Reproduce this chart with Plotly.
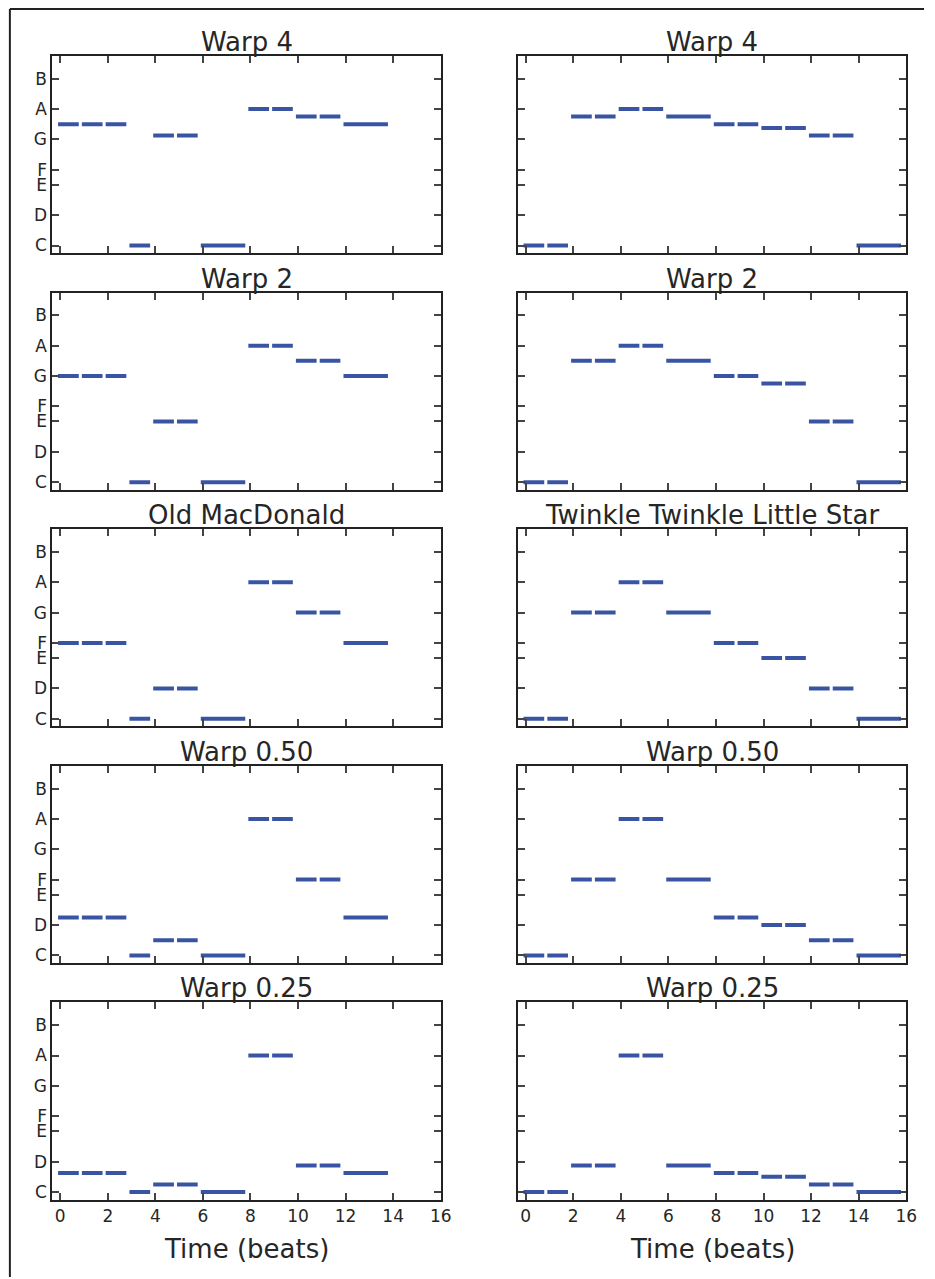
import plotly.graph_objects as go

# ---------------- data ----------------
om_starts = [0, 1, 2, 3, 4, 5, 6, 8, 9, 10, 11, 12]
om_durs = [1, 1, 1, 1, 1, 1, 2, 1, 1, 1, 1, 2]
tw_starts = [0, 1, 2, 3, 4, 5, 6, 8, 9, 10, 11, 12, 13, 14]
tw_durs = [1, 1, 1, 1, 1, 1, 2, 1, 1, 1, 1, 1, 1, 2]

om_warp4 = [68, 68, 68, 60, 67.25, 67.25, 60, 69, 69, 68.5, 68.5, 68]
om_warp2 = [67, 67, 67, 60, 64, 64, 60, 69, 69, 68, 68, 67]
om_orig = [65, 65, 65, 60, 62, 62, 60, 69, 69, 67, 67, 65]
om_warp050 = [62.5, 62.5, 62.5, 60, 61, 61, 60, 69, 69, 65, 65, 62.5]
om_warp025 = [61.25, 61.25, 61.25, 60, 60.5, 60.5, 60, 69, 69, 61.75, 61.75, 61.25]

tw_warp4 = [60, 60, 68.5, 68.5, 69, 69, 68.5, 68, 68, 67.75, 67.75, 67.25, 67.25, 60]
tw_warp2 = [60, 60, 68, 68, 69, 69, 68, 67, 67, 66.5, 66.5, 64, 64, 60]
tw_orig = [60, 60, 67, 67, 69, 69, 67, 65, 65, 64, 64, 62, 62, 60]
tw_warp050 = [60, 60, 65, 65, 69, 69, 65, 62.5, 62.5, 62, 62, 61, 61, 60]
tw_warp025 = [60, 60, 61.75, 61.75, 69, 69, 61.75, 61.25, 61.25, 61, 61, 60.5, 60.5, 60]

left_titles = ["Warp 4", "Warp 2", "Old MacDonald", "Warp 0.50", "Warp 0.25"]
right_titles = ["Warp 4", "Warp 2", "Twinkle Twinkle Little Star", "Warp 0.50", "Warp 0.25"]
left_series = [om_warp4, om_warp2, om_orig, om_warp050, om_warp025]
right_series = [tw_warp4, tw_warp2, tw_orig, tw_warp050, tw_warp025]

note_ticks = [60, 62, 64, 65, 67, 69, 71]
note_labels = ["C", "D", "E", "F", "G", "A", "B"]
x_ticks = [0, 2, 4, 6, 8, 10, 12, 14, 16]
x_label = "Time (beats)"

# ---------------- layout helpers ----------------
W, H = 935, 1279
COLOR = "#3a54a4"
TXT = "#262626"
col_px = [(53, 446), (524, 917)]
row_top0, row_pitch, row_h = 56, 237, 197.5


def py(p):
    return 1 - p / H


def segs(starts, durs, pitches):
    xs, ys = [], []
    for s, d, p in zip(starts, durs, pitches):
        xs += [s - 0.09, s + d - 0.22, None]
        ys += [p, p, None]
    return xs, ys


fig = go.Figure()
annotations = []
k = 0
for r in range(5):
    top = row_top0 + r * row_pitch
    bot = top + row_h
    for c in range(2):
        k += 1
        xa = "xaxis" if k == 1 else f"xaxis{k}"
        ya = "yaxis" if k == 1 else f"yaxis{k}"
        xr = "x" if k == 1 else f"x{k}"
        yr = "y" if k == 1 else f"y{k}"
        if c == 0:
            xs, ys = segs(om_starts, om_durs, left_series[r])
            title = left_titles[r]
        else:
            xs, ys = segs(tw_starts, tw_durs, right_series[r])
            title = right_titles[r]
        fig.add_trace(go.Scatter(x=xs, y=ys, mode="lines", xaxis=xr, yaxis=yr,
                                 line=dict(color=COLOR, width=4), showlegend=False,
                                 hoverinfo="skip"))
        x0, x1 = col_px[c]
        fig.layout[xa] = dict(domain=[x0 / W, x1 / W], anchor=yr, range=[-0.33, 16],
                              tickvals=x_ticks, showticklabels=(r == 4),
                              ticks="inside", ticklen=7, tickwidth=1.5, tickcolor="#444",
                              showline=True, linecolor="#222", linewidth=2, mirror="ticks",
                              showgrid=False, zeroline=False,
                              tickfont=dict(size=17, color=TXT, family="DejaVu Sans"))
        fig.layout[ya] = dict(domain=[py(bot), py(top)], anchor=xr, range=[59.5, 72.5],
                              tickvals=note_ticks, ticktext=note_labels,
                              showticklabels=(c == 0),
                              ticks="inside", ticklen=7, tickwidth=1.5, tickcolor="#444",
                              showline=True, linecolor="#222", linewidth=2, mirror="ticks",
                              showgrid=False, zeroline=False,
                              tickfont=dict(size=17, color=TXT, family="DejaVu Sans"))
        annotations.append(dict(text=title, xref="paper", yref="paper",
                                x=(x0 + x1) / 2 / W, y=py(top), xanchor="center",
                                yanchor="bottom", yshift=-3, showarrow=False,
                                font=dict(size=26, color=TXT, family="DejaVu Sans")))
        if r == 4:
            annotations.append(dict(text=x_label, xref="paper", yref="paper",
                                    x=(x0 + x1) / 2 / W, y=py(1251), xanchor="center",
                                    yanchor="middle", showarrow=False,
                                    font=dict(size=26, color=TXT, family="DejaVu Sans")))

shapes = [
    dict(type="line", xref="paper", yref="paper", x0=10 / W, x1=1.0, y0=py(9), y1=py(9),
         line=dict(color="#222", width=2)),
    dict(type="line", xref="paper", yref="paper", x0=10 / W, x1=10 / W, y0=py(9), y1=0.0,
         line=dict(color="#222", width=2)),
]

fig.update_layout(width=W, height=H, margin=dict(l=0, r=0, t=0, b=0),
                  paper_bgcolor="white", plot_bgcolor="white",
                  annotations=annotations, shapes=shapes,
                  font=dict(family="DejaVu Sans", color=TXT))
fig.write_html("out.html", config={"displayModeBar": False},
               post_script="document.body.style.margin='0';document.body.style.overflow='hidden';")
